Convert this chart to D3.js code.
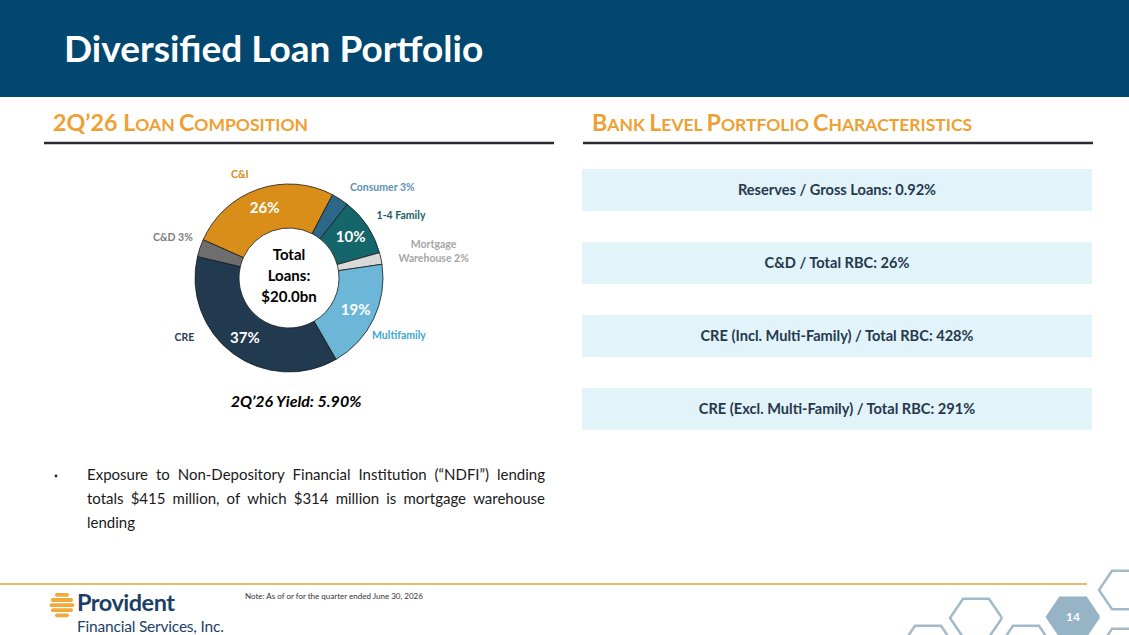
<!DOCTYPE html>
<html>
<head>
<meta charset="utf-8">
<script src="https://cdn.jsdelivr.net/npm/d3@7"></script>
<style>
  body { margin: 0; background: #fff; }
  svg { display: block; font-family: Lato, "Open Sans", sans-serif; }
</style>
</head>
<body>
<div id="chart"></div>
<script>
// Loan composition, 2Q'26 (share of total loans, %)
const categories = ["C&I", "Consumer", "1-4 Family", "Mortgage Warehouse", "Multifamily", "CRE", "C&D"];
const shares = [26, 3, 10, 2, 19, 37, 3];
const sliceColors = ["#D98E1A", "#2D6788", "#15666B", "#D9D9D9", "#6CB7D8", "#213A4F", "#6E6E6E"];
const labelColors = ["#D98E1A", "#5A93B6", "#1A5E62", "#A6A6A6", "#3AA8D8", "#2A3D4F", "#7F7F7F"];

// Right side ratios
const ratioNames = ["Reserves / Gross Loans", "C&D / Total RBC", "CRE (Incl. Multi-Family) / Total RBC", "CRE (Excl. Multi-Family) / Total RBC"];
const ratioValues = ["0.92%", "26%", "428%", "291%"];

const totalLoans = "$20.0bn";
const yieldText = "2Q\u201926 Yield: 5.90%";
const bulletLines = [
    "Exposure to Non-Depository Financial Institution (\u201CNDFI\u201D) lending",
    "totals $415 million, of which $314 million is mortgage warehouse",
    "lending"
];

const W = 1129, H = 635;

const svg = d3.select("#chart")
    .append("svg")
    .attr("width", W)
    .attr("height", H)
    .attr("viewBox", "0 0 " + W + " " + H);

// Header band
svg.append("rect")
    .attr("x", 0).attr("y", 0)
    .attr("width", W).attr("height", 97)
    .attr("fill", "#02476F");

svg.append("text")
    .attr("x", 64).attr("y", 62)
    .attr("fill", "#fff")
    .attr("font-size", 37)
    .attr("font-weight", 700)
    .text("Diversified Loan Portfolio");

// Section titles in small caps
function sectionTitle(x, y, parts, lineX1, lineX2) {
    let t = svg.append("text")
        .attr("x", x).attr("y", y)
        .attr("fill", "#EFA032")
        .attr("font-weight", 700);
    parts.forEach(function (p) {
        t.append("tspan")
            .attr("font-size", p[1] ? 23.3 : 17.5)
            .text(p[0]);
    });
    svg.append("line")
        .attr("x1", lineX1).attr("x2", lineX2)
        .attr("y1", 143).attr("y2", 143)
        .attr("stroke", "#2A2A35")
        .attr("stroke-width", 2.5);
}

sectionTitle(53, 131, [["2Q\u201926 L", true], ["OAN ", false], ["C", true], ["OMPOSITION", false]], 44, 554);
sectionTitle(592, 131, [["B", true], ["ANK ", false], ["L", true], ["EVEL ", false], ["P", true], ["ORTFOLIO ", false], ["C", true], ["HARACTERISTICS", false]], 583, 1093);

// Donut
const cx = 289, cy = 278;
const rOuter = 94, rInner = 50;
const start = -66 * Math.PI / 180;

const pie = d3.pie().sort(null).value(function (d) { return d; })
    .startAngle(start).endAngle(start + 2 * Math.PI);
const arcs = pie(shares);

const arc = d3.arc().innerRadius(rInner).outerRadius(rOuter);
const inLabel = d3.arc().innerRadius(74).outerRadius(74);
const outLabel = d3.arc().innerRadius(110).outerRadius(110);

const g = svg.append("g").attr("transform", "translate(" + cx + "," + cy + ")");

g.selectAll("path.slice")
    .data(arcs)
    .enter().append("path")
    .attr("class", "slice")
    .attr("d", arc)
    .attr("fill", function (d, i) { return sliceColors[i]; })
    .attr("stroke", "#1a1a1a")
    .attr("stroke-width", 0.8);

// Percent labels for big slices
g.selectAll("text.pct")
    .data(arcs.filter(function (d) { return d.data >= 10; }))
    .enter().append("text")
    .attr("class", "pct")
    .attr("x", function (d) { return inLabel.centroid(d)[0]; })
    .attr("y", function (d) { return inLabel.centroid(d)[1]; })
    .attr("dy", "0.35em")
    .attr("text-anchor", "middle")
    .attr("fill", "#fff")
    .attr("font-size", 15)
    .attr("font-weight", 700)
    .text(function (d) { return d.data + "%"; });

// Category labels around the donut (nudges from the outer centroid)
const nudge = [
    { dx: -13, dy: 4, anchor: "middle" },
    { dx: 1, dy: 5.5, anchor: "start" },
    { dx: -4, dy: 2, anchor: "start" },
    { dx: 37, dy: -7.5, anchor: "middle" },
    { dx: -16, dy: 13.5, anchor: "start" },
    { dx: -39, dy: -25.5, anchor: "middle" },
    { dx: 8, dy: -2, anchor: "end" }
];

arcs.forEach(function (d, i) {
    let c = outLabel.centroid(d);
    let name = categories[i];
    let lines = d.data < 10 ? (name + " " + d.data + "%") : name;
    lines = lines.indexOf("Mortgage ") === 0 ? lines.split("Mortgage ").join("Mortgage|").split("|") : [lines];
    let t = g.append("text")
        .attr("x", c[0] + nudge[i].dx)
        .attr("y", c[1] + nudge[i].dy)
        .attr("text-anchor", nudge[i].anchor)
        .attr("fill", labelColors[i])
        .attr("font-size", 10.5)
        .attr("font-weight", 700);
    lines.forEach(function (l, k) {
        t.append("tspan")
            .attr("x", c[0] + nudge[i].dx)
            .attr("dy", k === 0 ? 0 : 14)
            .text(l);
    });
});

// Centre text
const centre = ["Total", "Loans:", totalLoans];
g.selectAll("text.centre")
    .data(centre)
    .enter().append("text")
    .attr("class", "centre")
    .attr("x", 0)
    .attr("y", function (d, i) { return -23 + i * 21; })
    .attr("dy", "0.35em")
    .attr("text-anchor", "middle")
    .attr("fill", "#000")
    .attr("font-size", 15)
    .attr("font-weight", 700)
    .text(function (d) { return d; });

svg.append("text")
    .attr("x", 296).attr("y", 407)
    .attr("text-anchor", "middle")
    .attr("font-size", 16)
    .attr("font-weight", 700)
    .attr("font-style", "italic")
    .attr("fill", "#000")
    .text(yieldText);

// Ratio boxes
ratioNames.forEach(function (n, i) {
    let y0 = 169 + i * 73;
    svg.append("rect")
        .attr("x", 582).attr("y", y0)
        .attr("width", 510).attr("height", 42)
        .attr("fill", "#E2F3FA");
    svg.append("text")
        .attr("x", 837).attr("y", y0 + 21)
        .attr("dy", "0.35em")
        .attr("text-anchor", "middle")
        .attr("fill", "#25394D")
        .attr("font-size", 14.6)
        .attr("font-weight", 700)
        .text(n + ": " + ratioValues[i]);
});

// Bullet, justified by hand
svg.append("circle").attr("cx", 56).attr("cy", 476).attr("r", 1.4).attr("fill", "#222");
const x0 = 87, x1 = 545;
bulletLines.forEach(function (line, li) {
    let words = line.split(" ");
    let yy = 480 + li * 24;
    let nodes = words.map(function (w) {
        return svg.append("text")
            .attr("y", yy)
            .attr("font-size", 15)
            .attr("fill", "#1a1a1a")
            .text(w);
    });
    let widths = nodes.map(function (n) { return n.node().getComputedTextLength(); });
    let last = li === bulletLines.length - 1;
    let gap = last || words.length < 2 ? 4 : (x1 - x0 - d3.sum(widths)) / (words.length - 1);
    let x = x0;
    nodes.forEach(function (n, k) {
        n.attr("x", x);
        x += widths[k] + gap;
    });
});

// Footer
svg.append("line")
    .attr("x1", 0).attr("x2", 1087)
    .attr("y1", 584).attr("y2", 584)
    .attr("stroke", "#E8A33A")
    .attr("stroke-width", 1.5);

svg.append("text")
    .attr("x", 245).attr("y", 599)
    .attr("font-size", 8)
    .attr("fill", "#333")
    .text("Note: As of or for the quarter ended June 30, 2026");

// Logo
const bars = [7, 11, 12.5, 11, 7];
bars.forEach(function (w, i) {
    svg.append("rect")
        .attr("x", 62 - w).attr("y", 593 + i * 5.1)
        .attr("width", w * 2).attr("height", 3.8)
        .attr("rx", 1.9)
        .attr("fill", "#F2A93B");
});
svg.append("text")
    .attr("x", 77).attr("y", 611)
    .attr("font-size", 23.5)
    .attr("font-weight", 700)
    .attr("letter-spacing", -0.5)
    .attr("fill", "#1C3F66")
    .text("Provident");
svg.append("text")
    .attr("x", 77).attr("y", 632)
    .attr("font-size", 15.5)
    .attr("letter-spacing", -0.2)
    .attr("fill", "#1C3F66")
    .text("Financial Services, Inc.");

// Hexagons
const hexes = [[1125, 590, false], [976, 618, false], [1073, 617, true], [928, 645, false], [1026, 645, false], [1125, 648, false]];
const R = 26;
const hexPath = d3.line()(d3.range(7).map(function (k) {
    let a = k * Math.PI / 3;
    return [R * Math.cos(a), R * 0.85 * Math.sin(a)];
}));
hexes.forEach(function (h) {
    svg.append("path")
        .attr("transform", "translate(" + h[0] + "," + h[1] + ")")
        .attr("d", hexPath)
        .attr("fill", h[2] ? "#97B3C6" : "none")
        .attr("stroke", h[2] ? "#97B3C6" : "#A3BAC8")
        .attr("stroke-width", 2.5);
    if (h[2]) {
        svg.append("text")
            .attr("x", h[0]).attr("y", h[1])
            .attr("dy", "0.35em")
            .attr("text-anchor", "middle")
            .attr("fill", "#fff")
            .attr("font-size", 12)
            .attr("font-weight", 700)
            .text("14");
    }
});
</script>
</body>
</html>
